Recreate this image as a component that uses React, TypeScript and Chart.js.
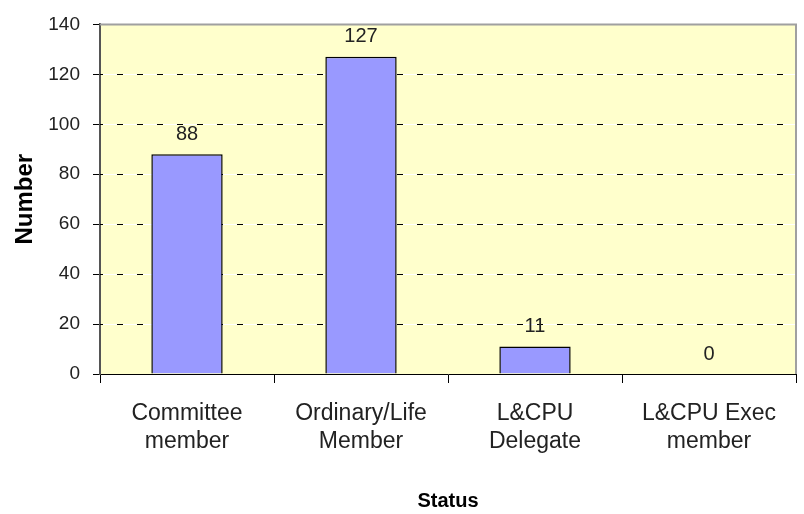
import React, { useEffect, useRef } from "react";
import { Chart, registerables } from "chart.js";

Chart.register(...registerables);

const categories: string[][] = [
  ["Committee", "member"],
  ["Ordinary/Life", "Member"],
  ["L&CPU", "Delegate"],
  ["L&CPU Exec", "member"],
];
const counts: number[] = [88, 127, 11, 0];
const yTicks: number[] = [0, 20, 40, 60, 80, 100, 120, 140];
const xTitle = "Status";
const yTitle = "Number";

const FONT = "'Liberation Sans', Arial, sans-serif";

const bgPlugin = {
  id: "bgAndGrid",
  beforeDraw(chart: any) {
    const { ctx, chartArea: a } = chart;
    ctx.save();
    ctx.fillStyle = "#FFFFCC";
    ctx.fillRect(a.left, a.top, a.right - a.left, a.bottom - a.top);
    ctx.restore();
  },
  beforeDatasetsDraw(chart: any) {
    const { ctx, chartArea: a, scales } = chart;
    const y = scales.y;
    ctx.save();
    ctx.strokeStyle = "#000";
    ctx.lineWidth = 1;
    ctx.setLineDash([6, 14]);
    ctx.lineDashOffset = -17;
    yTicks.forEach((v) => {
      if (v === 0 || v === 140) return;
      const py = Math.round(y.getPixelForValue(v)) + 0.5;
      ctx.beginPath();
      ctx.moveTo(a.left, py);
      ctx.lineTo(a.right, py);
      ctx.stroke();
    });
    ctx.restore();
  },
  afterDatasetsDraw(chart: any) {
    const { ctx, chartArea: a } = chart;
    ctx.save();
    ctx.strokeStyle = "#A0A0A0";
    ctx.lineWidth = 2;
    ctx.beginPath();
    ctx.moveTo(a.left, a.top);
    ctx.lineTo(a.right, a.top);
    ctx.lineTo(a.right, a.bottom);
    ctx.stroke();
    // value labels
    const meta = chart.getDatasetMeta(0);
    ctx.fillStyle = "#222";
    ctx.font = `20px ${FONT}`;
    ctx.textAlign = "center";
    ctx.textBaseline = "middle";
    meta.data.forEach((bar: any, i: number) => {
      ctx.fillText(String(counts[i]), bar.x, bar.y - 20);
    });
    ctx.restore();
  },
};

export default function App() {
  const ref = useRef<HTMLCanvasElement>(null);
  useEffect(() => {
    if (!ref.current) return;
    const chart = new Chart(ref.current, {
      type: "bar",
      data: {
        labels: categories,
        datasets: [
          {
            data: counts,
            backgroundColor: "#9999FF",
            borderColor: "#000",
            borderWidth: 1.5,
            barPercentage: 0.82,
            categoryPercentage: 0.5,
          },
        ],
      },
      options: {
        animation: false,
        responsive: false,
        maintainAspectRatio: false,
        layout: { padding: { top: 20, right: 8, left: 0, bottom: 0 } },
        plugins: { legend: { display: false }, tooltip: { enabled: false } },
        scales: {
          x: {
            afterFit: (s: any) => {
              s.height = 140;
            },
            grid: {
              display: true,
              drawOnChartArea: false,
              offset: true,
              tickLength: 9,
              tickColor: "#000",
              color: "#000",
            },
            border: { color: "#000", width: 1 },
            ticks: {
              color: "#222",
              font: { family: FONT, size: 23, lineHeight: 1.22 },
              padding: 17,
              maxRotation: 0,
            },
            title: {
              display: true,
              text: xTitle,
              color: "#000",
              font: { family: FONT, size: 20, weight: "bold", lineHeight: 1.2 },
              padding: { top: 0, bottom: 1 },
            },
          },
          y: {
            min: 0,
            max: 140,
            afterFit: (s: any) => {
              s.width = 100;
            },
            afterBuildTicks: (s: any) => {
              s.ticks = yTicks.map((v) => ({ value: v }));
            },
            grid: {
              color: (c: any) => (c.tick && c.tick.value > 0 && c.tick.value < 140 ? "#FFFFFF" : "rgba(0,0,0,0)"),
              tickColor: "#000",
              tickLength: 7,
              lineWidth: 1,
            },
            border: { color: "#555", width: 2 },
            ticks: {
              color: "#222",
              font: { family: FONT, size: 19 },
              padding: 13,
            },
            title: {
              display: true,
              text: yTitle,
              color: "#000",
              font: { family: FONT, size: 24, weight: "bold", lineHeight: 1.2 },
              padding: { top: 10.5, bottom: 0 },
            },
          },
        },
      },
      plugins: [bgPlugin],
    } as any);
    return () => chart.destroy();
  }, []);
  return (
    <div style={{ position: "fixed", left: 0, top: 0, width: 804, height: 514, background: "#fff" }}>
      <canvas ref={ref} width={804} height={514} style={{ width: 804, height: 514 }} />
    </div>
  );
}
